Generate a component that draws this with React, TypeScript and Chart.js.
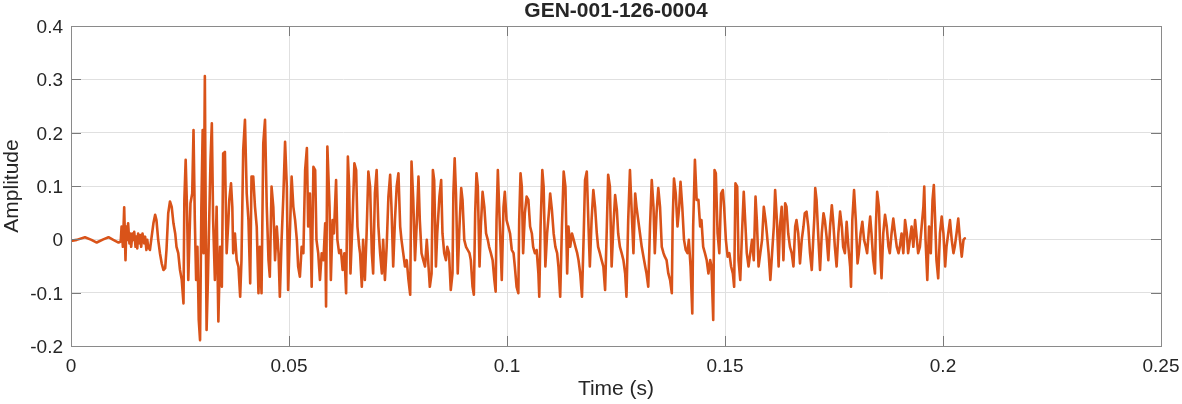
import React, { useEffect, useRef } from "react";
import { Chart, registerables } from "chart.js";

Chart.register(...registerables);

const TITLE = "GEN-001-126-0004";
const X_LABEL = "Time (s)";
const Y_LABEL = "Amplitude";
const xTicks = [0, 0.05, 0.1, 0.15, 0.2, 0.25];
const yTicks = [-0.2, -0.1, 0, 0.1, 0.2, 0.3, 0.4];

// [time (s), amplitude]
const onsetSegment: [number, number][] = [
  [0, -0.003], [0.0013, -0.001], [0.0032, 0.004], [0.0047, -0.001], [0.0059, -0.006],
  [0.0074, 0.0], [0.0086, 0.004], [0.0097, -0.001], [0.0109, -0.006], [0.0114, -0.004],
  [0.0116, 0.024], [0.0119, -0.014], [0.0122, 0.06], [0.0125, -0.039], [0.0127, 0.024],
  [0.0129, -0.001], [0.0131, 0.03], [0.0134, -0.0075], [0.0136, 0.011], [0.0138, -0.014],
  [0.0141, 0.011], [0.0143, -0.001], [0.0145, 0.014], [0.0148, -0.014], [0.015, 0.005],
  [0.0152, -0.017], [0.0154, 0.011], [0.0157, -0.0075], [0.0159, 0.008], [0.0161, -0.014],
  [0.0164, 0.011], [0.0166, -0.001], [0.0168, -0.0075], [0.017, 0.005], [0.0173, -0.02],
  [0.0175, -0.001], [0.0177, -0.014], [0.0181, -0.02], [0.0185, 0.005], [0.0189, 0.03],
  [0.0193, 0.046], [0.0196, 0.036], [0.02, -0.001], [0.0204, -0.026], [0.0208, -0.045],
  [0.0212, -0.0575], [0.0216, -0.054], [0.0219, -0.02], [0.0223, 0.049], [0.0227, 0.071],
  [0.0231, 0.061], [0.0235, 0.03], [0.0239, 0.011], [0.0242, -0.014], [0.0246, -0.026],
  [0.025, -0.0575], [0.0254, -0.076], [0.0258, -0.12], [0.026, 0.074], [0.0263, 0.149],
  [0.0266, 0.061], [0.0269, -0.076], [0.0271, -0.02], [0.0274, 0.0675], [0.0278, 0.086],
  [0.0281, 0.205], [0.0284, 0.036], [0.0287, -0.076], [0.029, -0.014], [0.0293, -0.151],
  [0.0296, -0.189], [0.0299, 0.061], [0.0302, 0.205], [0.0304, -0.026], [0.0307, 0.306],
  [0.0309, 0.036], [0.0311, -0.17], [0.0314, -0.076], [0.0317, 0.036], [0.032, 0.149],
  [0.0323, 0.2175], [0.0326, 0.036], [0.033, -0.076], [0.0334, 0.061], [0.0338, -0.154],
];

const strongSegment: [number, number][] = [
  [0.0342, -0.014], [0.0346, -0.089], [0.0349, 0.161], [0.0353, 0.164], [0.0357, -0.026],
  [0.0361, 0.036], [0.0363, 0.074], [0.0367, 0.105], [0.037, 0.061], [0.0372, -0.026],
  [0.0376, 0.011], [0.038, -0.039], [0.0384, -0.051], [0.0388, -0.1075], [0.0391, -0.039],
  [0.0395, 0.168], [0.0399, 0.224], [0.0403, 0.086], [0.0407, 0.036], [0.0411, -0.0825],
  [0.0414, 0.1175], [0.0418, 0.1175], [0.0422, 0.061], [0.0426, 0.024], [0.043, -0.101],
  [0.0433, -0.014], [0.0437, -0.101], [0.0441, 0.18], [0.0445, 0.224], [0.0449, 0.061],
  [0.0453, -0.039], [0.0456, -0.07], [0.046, 0.099], [0.0464, 0.061], [0.0468, -0.039],
  [0.0472, 0.024], [0.0476, -0.026], [0.0479, -0.1075], [0.0483, -0.001], [0.0487, 0.08],
  [0.0491, 0.183], [0.0495, 0.099], [0.0498, -0.095], [0.0502, 0.011], [0.0506, 0.1175],
  [0.051, 0.061], [0.0514, 0.036], [0.0518, -0.001], [0.0521, -0.051], [0.0525, -0.07],
  [0.0529, -0.014], [0.0533, -0.026], [0.0537, 0.13], [0.0541, 0.171], [0.0544, 0.024],
  [0.0548, 0.086], [0.0552, -0.089], [0.0556, 0.136], [0.056, 0.13], [0.0563, -0.001],
  [0.0567, -0.026], [0.0571, -0.076], [0.0575, -0.026], [0.0579, -0.039], [0.0583, 0.03],
  [0.0585, -0.126], [0.0588, 0.174], [0.0593, 0.061], [0.0596, -0.076], [0.06, 0.036],
  [0.0603, 0.011], [0.0608, 0.111], [0.0611, -0.001], [0.0615, -0.026], [0.0619, -0.02],
  [0.0623, -0.0575], [0.0627, -0.026], [0.0631, -0.101], [0.0635, 0.155], [0.0638, 0.099],
  [0.0641, -0.064], [0.0646, 0.0425], [0.065, 0.1425], [0.0654, 0.13], [0.0657, 0.024],
  [0.0661, -0.014],
];

const middleSegment: [number, number][] = [
  [0.0663, -0.026], [0.0667, -0.089], [0.067, -0.001], [0.0674, -0.076], [0.0678, 0.011],
  [0.0682, 0.127], [0.0686, 0.099], [0.069, -0.026], [0.0693, -0.064], [0.0697, 0.086],
  [0.0701, 0.13], [0.0705, 0.024], [0.0709, -0.026], [0.0713, -0.064], [0.0716, -0.001],
  [0.072, -0.076], [0.0724, -0.014], [0.0728, 0.08], [0.0732, 0.121], [0.0735, 0.061],
  [0.0739, -0.051], [0.0743, 0.036], [0.0747, 0.099], [0.0751, 0.124], [0.0755, 0.024],
  [0.0758, -0.001], [0.0762, -0.026], [0.0766, -0.051], [0.077, -0.039], [0.0774, -0.076],
  [0.0778, -0.104], [0.0781, 0.146], [0.0785, 0.074], [0.0789, -0.039], [0.0793, 0.03],
  [0.0797, 0.1175], [0.08, 0.036], [0.0804, -0.026], [0.0808, -0.039], [0.0812, -0.051],
  [0.0816, -0.001], [0.082, -0.051], [0.0823, -0.089], [0.0827, -0.064], [0.083, 0.13],
  [0.0833, 0.111], [0.0837, -0.051], [0.084, 0.011], [0.0845, 0.08], [0.0849, 0.111],
  [0.0852, 0.011], [0.0856, -0.026], [0.086, -0.039], [0.0863, -0.014], [0.0867, -0.026],
  [0.0871, -0.095], [0.0875, -0.064], [0.0877, 0.086], [0.088, 0.152], [0.0883, 0.086],
  [0.0887, -0.064], [0.0891, 0.024], [0.0895, 0.096], [0.0898, 0.074], [0.0902, -0.001],
  [0.0906, -0.014], [0.091, -0.02], [0.0914, -0.026], [0.0917, -0.039], [0.0921, -0.089],
  [0.0924, -0.104], [0.0927, 0.049], [0.093, 0.124], [0.0933, 0.099], [0.0937, -0.051],
  [0.094, 0.024], [0.0944, 0.089], [0.0948, 0.061], [0.0952, 0.011], [0.0956, -0.001],
  [0.0959, -0.014], [0.0963, -0.026], [0.0967, -0.039], [0.0971, -0.076], [0.0974, -0.098],
  [0.0976, 0.036], [0.0979, 0.13], [0.0982, 0.061],
];

const steadySegment: [number, number][] = [
  [0.0988, -0.076], [0.0992, 0.061], [0.0995, 0.089], [0.0999, 0.036], [0.1003, 0.024],
  [0.1007, 0.011], [0.1011, -0.02], [0.1015, -0.026], [0.1018, -0.051], [0.1022, -0.089],
  [0.1026, -0.101], [0.1028, 0.036], [0.1031, 0.124], [0.1034, 0.099], [0.1037, -0.026],
  [0.1041, 0.049], [0.1045, 0.08], [0.1049, 0.074], [0.1053, 0.024], [0.1057, 0.011],
  [0.106, -0.014], [0.1064, -0.026], [0.1068, -0.02], [0.1072, -0.064], [0.1074, -0.1075],
  [0.1077, 0.024], [0.1081, 0.13], [0.1084, 0.099], [0.1088, -0.051], [0.1092, 0.011],
  [0.1096, 0.049], [0.1099, 0.086], [0.1103, 0.055], [0.1107, 0.011], [0.1111, -0.014],
  [0.1115, -0.026], [0.1118, -0.051], [0.1122, -0.1075], [0.1126, 0.024], [0.113, 0.127],
  [0.1134, 0.099], [0.1138, -0.064], [0.1141, 0.024], [0.1145, -0.014], [0.1149, 0.011],
  [0.1153, -0.001], [0.1157, -0.014], [0.1161, -0.026], [0.1164, -0.039], [0.1168, -0.064],
  [0.1172, -0.1075], [0.1176, 0.011], [0.1179, 0.111], [0.1183, 0.127], [0.1187, 0.024],
  [0.119, -0.051], [0.1194, 0.036], [0.1198, 0.0925], [0.1202, 0.061], [0.1206, 0.011],
  [0.1209, -0.014], [0.1213, -0.026], [0.1217, -0.039], [0.1221, -0.051], [0.1225, -0.095],
  [0.1229, 0.024], [0.1232, 0.121], [0.1236, 0.099], [0.124, -0.051], [0.1244, 0.024],
  [0.1248, 0.083], [0.1252, 0.055], [0.1255, 0.011], [0.1259, -0.014], [0.1263, -0.026],
  [0.1267, -0.039], [0.1271, -0.064], [0.1274, -0.1075], [0.1278, 0.036], [0.1282, 0.13],
];

const lateSegment: [number, number][] = [
  [0.129, -0.026], [0.1294, 0.086], [0.1297, 0.061], [0.1301, 0.036], [0.1305, 0.011],
  [0.1309, -0.014], [0.1313, -0.0325], [0.1317, -0.051], [0.132, -0.064], [0.1324, -0.089],
  [0.1328, 0.024], [0.1332, 0.111], [0.1336, 0.061], [0.1339, -0.026], [0.1343, 0.049],
  [0.1347, 0.096], [0.1351, 0.061], [0.1355, -0.014], [0.1359, -0.026], [0.1362, -0.0325],
  [0.1366, -0.039], [0.137, -0.064], [0.1374, -0.076], [0.1378, -0.101], [0.138, 0.036],
  [0.1383, 0.114], [0.1387, 0.086], [0.1391, 0.024], [0.1395, 0.061], [0.1398, 0.108],
  [0.1402, 0.061], [0.1406, -0.001], [0.141, -0.02], [0.1414, -0.026], [0.1417, -0.001],
  [0.1421, -0.051], [0.1425, -0.139], [0.1427, 0.024], [0.1431, 0.149], [0.1435, 0.074],
  [0.1439, 0.074], [0.1443, 0.024], [0.1446, 0.036], [0.145, -0.014], [0.1454, -0.026],
  [0.1458, -0.039], [0.1462, -0.064], [0.1466, -0.039], [0.1469, -0.051], [0.1473, -0.151],
  [0.1476, 0.13], [0.1479, 0.124], [0.1483, 0.011], [0.1487, -0.026], [0.1491, 0.086],
  [0.1495, 0.0925], [0.1498, 0.061], [0.1502, -0.001], [0.1506, -0.0325], [0.151, -0.026],
  [0.1514, -0.051], [0.1518, -0.064], [0.1521, -0.089], [0.1524, 0.105], [0.1528, 0.099],
  [0.1531, -0.039], [0.1535, -0.076], [0.1539, 0.011], [0.1543, 0.089], [0.1547, 0.024],
  [0.155, -0.026], [0.1554, -0.051], [0.1558, -0.026], [0.1562, -0.001], [0.1566, -0.039],
  [0.157, 0.08], [0.1573, 0.036], [0.1577, -0.051], [0.1581, -0.026], [0.1585, -0.001],
  [0.1589, 0.061], [0.1593, 0.036], [0.1596, 0.011], [0.16, -0.026], [0.1604, -0.076],
  [0.1608, -0.026], [0.1612, 0.024], [0.1615, 0.0925], [0.1619, 0.036], [0.1623, -0.051],
];

const decaySegment: [number, number][] = [
  [0.1626, 0.024], [0.163, 0.061], [0.1634, -0.039], [0.1638, 0.0675], [0.1641, 0.061],
  [0.1645, 0.011], [0.1649, -0.014], [0.1653, -0.026], [0.1657, -0.051], [0.1661, 0.024],
  [0.1664, 0.036], [0.1668, 0.011], [0.1672, -0.045], [0.1676, -0.001], [0.168, 0.024],
  [0.1683, 0.049], [0.1687, 0.052], [0.1691, 0.024], [0.1695, -0.026], [0.1699, -0.0575],
  [0.1703, 0.011], [0.1705, 0.0425], [0.1707, 0.096], [0.171, 0.074], [0.1714, 0.005],
  [0.1718, -0.0575], [0.1722, 0.011], [0.1726, 0.049], [0.1729, 0.036], [0.1733, 0.005],
  [0.1737, -0.039], [0.1741, 0.024], [0.1745, 0.064], [0.1748, 0.036], [0.1752, -0.014],
  [0.1756, -0.051], [0.176, 0.011], [0.1764, 0.052], [0.1768, 0.024], [0.1771, -0.014],
  [0.1775, -0.026], [0.1779, 0.033], [0.1783, -0.014], [0.1787, -0.051], [0.1789, -0.089],
  [0.1792, 0.036], [0.1796, 0.0925], [0.18, 0.036], [0.1804, -0.045], [0.1807, -0.026],
  [0.1811, 0.011], [0.1815, 0.033], [0.1819, -0.001], [0.1823, -0.014], [0.1826, -0.026],
  [0.183, 0.0175], [0.1833, 0.0425], [0.1836, 0.011], [0.184, -0.039], [0.1844, -0.064],
  [0.1846, 0.024], [0.1849, 0.089], [0.1853, 0.061], [0.1857, -0.039], [0.1859, -0.073],
  [0.1863, 0.011], [0.1867, 0.046], [0.1871, 0.024], [0.1875, -0.014], [0.1878, -0.026],
  [0.1882, 0.011], [0.1886, 0.039], [0.189, 0.011], [0.1894, -0.014], [0.1898, -0.026],
  [0.1901, -0.014], [0.1905, 0.011], [0.1909, -0.026], [0.1913, 0.036], [0.1917, 0.011],
  [0.192, -0.026], [0.1924, -0.001], [0.1928, 0.024], [0.1932, -0.014], [0.1936, 0.036],
];

const tailSegment: [number, number][] = [
  [0.1943, -0.026], [0.1947, -0.014], [0.1951, 0.024], [0.1955, 0.061], [0.1957, 0.099],
  [0.196, -0.001], [0.1964, -0.076], [0.1968, 0.024], [0.1972, -0.026], [0.1976, 0.074],
  [0.1979, 0.102], [0.1982, 0.036], [0.1985, -0.039], [0.1989, -0.073], [0.1993, 0.011],
  [0.1997, 0.0425], [0.2001, 0.011], [0.2005, -0.051], [0.2008, -0.014], [0.2012, 0.011],
  [0.2016, 0.036], [0.202, -0.001], [0.2024, -0.026], [0.2027, -0.014], [0.2031, 0.011],
  [0.2035, 0.039], [0.2039, -0.001], [0.2043, -0.0325], [0.2047, -0.001], [0.205, 0.002],
];

const waveform = [
  ...onsetSegment,
  ...strongSegment,
  ...middleSegment,
  ...steadySegment,
  ...lateSegment,
  ...decaySegment,
  ...tailSegment,
];

const FONT = '"Liberation Sans", Arial, Helvetica, sans-serif';
const TEXT_COLOR = "#262626";
const LINE_COLOR = "#D95319";

const fmt = (v: number) => String(parseFloat(v.toFixed(2)));

const matlabAxes = {
  id: "matlabAxes",
  afterDraw(chart: any) {
    const { ctx, chartArea, scales } = chart;
    const { left, right, top, bottom } = chartArea;
    const xs = scales.x;
    const ys = scales.y;
    ctx.save();

    // tick marks (inward, mirrored)
    ctx.strokeStyle = "#7a7a7a";
    ctx.lineWidth = 1;
    ctx.beginPath();
    xTicks.forEach((v) => {
      const px = Math.round(xs.getPixelForValue(v)) + 0.5;
      ctx.moveTo(px, top);
      ctx.lineTo(px, top + 10);
      ctx.moveTo(px, bottom);
      ctx.lineTo(px, bottom - 10);
    });
    yTicks.forEach((v) => {
      const py = Math.round(ys.getPixelForValue(v)) + 0.5;
      ctx.moveTo(left, py);
      ctx.lineTo(left + 10, py);
      ctx.moveTo(right, py);
      ctx.lineTo(right - 10, py);
    });
    ctx.stroke();

    // box
    ctx.strokeStyle = "#8a8a8a";
    ctx.strokeRect(
      Math.round(left) + 0.5,
      Math.round(top) + 0.5,
      Math.round(right - left),
      Math.round(bottom - top)
    );

    // tick labels
    ctx.fillStyle = TEXT_COLOR;
    ctx.font = `19px ${FONT}`;
    ctx.textBaseline = "alphabetic";
    ctx.textAlign = "right";
    yTicks.forEach((v) => {
      ctx.fillText(fmt(v), left - 8, ys.getPixelForValue(v) + 7);
    });
    ctx.textAlign = "center";
    xTicks.forEach((v) => {
      ctx.fillText(fmt(v), xs.getPixelForValue(v), bottom + 26);
    });

    // axis titles
    ctx.font = `21px ${FONT}`;
    ctx.fillText(X_LABEL, (left + right) / 2, 395);
    ctx.save();
    ctx.translate(18, (top + bottom) / 2);
    ctx.rotate(-Math.PI / 2);
    ctx.textAlign = "center";
    ctx.fillText(Y_LABEL, 0, 0);
    ctx.restore();

    // title
    ctx.font = `bold 21px ${FONT}`;
    ctx.textAlign = "center";
    ctx.fillText(TITLE, (left + right) / 2, 17);

    ctx.restore();
  },
};

export default function App() {
  const canvasRef = useRef<HTMLCanvasElement>(null);

  useEffect(() => {
    const canvas = canvasRef.current;
    if (!canvas) return;
    const chart = new Chart(canvas, {
      type: "line",
      data: {
        datasets: [
          {
            data: waveform.map(([x, y]) => ({ x, y })),
            borderColor: LINE_COLOR,
            backgroundColor: LINE_COLOR,
            borderWidth: 2.6,
            borderJoinStyle: "round",
            borderCapStyle: "round",
            pointRadius: 0,
            fill: false,
            tension: 0,
          },
        ],
      },
      options: {
        responsive: false,
        animation: false,
        devicePixelRatio: 1,
        layout: { padding: { top: 26, right: 21, left: 0, bottom: 0 } },
        plugins: {
          legend: { display: false },
          tooltip: { enabled: false },
          title: { display: false },
        },
        scales: {
          x: {
            type: "linear",
            min: 0,
            max: 0.25,
            afterBuildTicks: (s: any) => {
              s.ticks = xTicks.map((value) => ({ value }));
            },
            afterFit: (s: any) => {
              s.height = 58;
            },
            ticks: { display: false },
            grid: { color: "#e0e0e0", lineWidth: 1, drawTicks: false },
            border: { display: false },
          },
          y: {
            type: "linear",
            min: -0.2,
            max: 0.4,
            afterBuildTicks: (s: any) => {
              s.ticks = yTicks.map((value) => ({ value }));
            },
            afterFit: (s: any) => {
              s.width = 71;
            },
            ticks: { display: false },
            grid: { color: "#e0e0e0", lineWidth: 1, drawTicks: false },
            border: { display: false },
          },
        },
      },
      plugins: [matlabAxes],
    });
    return () => chart.destroy();
  }, []);

  return (
    <div
      style={{
        position: "fixed",
        left: 0,
        top: 0,
        width: 1182,
        height: 404,
        background: "#ffffff",
      }}
    >
      <canvas
        ref={canvasRef}
        width={1182}
        height={404}
        style={{ display: "block", width: 1182, height: 404 }}
      />
    </div>
  );
}
